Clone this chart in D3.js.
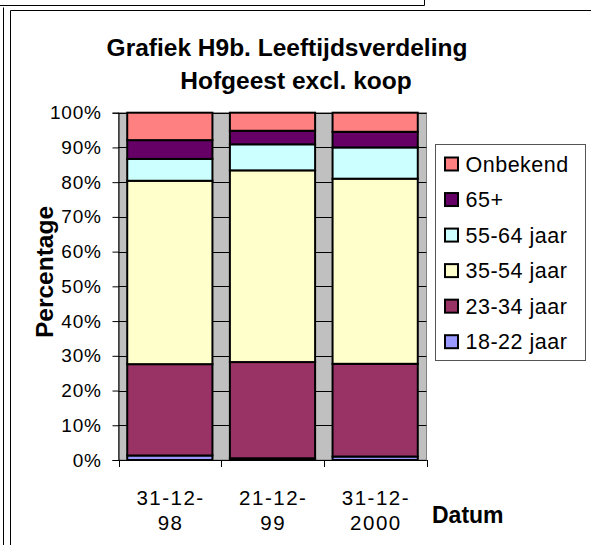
<!DOCTYPE html>
<html>
<head>
<meta charset="utf-8">
<script src="https://cdn.jsdelivr.net/npm/d3@7"></script>
<style>
  body { margin: 0; background: #fff; }
  text { font-family: "Liberation Sans", Arial, sans-serif; fill: #000; }
</style>
</head>
<body>
<div id="chart"></div>
<script>
// Categories (dates) and their two-line labels
const categories = ["31-12-98", "21-12-99", "31-12-2000"];
const categoryLines = [["31-12-", "98"], ["21-12-", "99"], ["31-12-", "2000"]];

// Series values (percentages per date), stacked bottom to top
const seriesNames = ["18-22 jaar", "23-34 jaar", "35-54 jaar", "55-64 jaar", "65+", "Onbekend"];
const v1822 = [1.3, 0.5, 1.0];
const v2334 = [26.3, 27.7, 26.7];
const v3554 = [52.8, 55.2, 53.3];
const v5564 = [6.3, 7.5, 9.0];
const v65plus = [5.4, 3.9, 4.5];
const vOnbekend = [7.9, 5.2, 5.5];
const seriesColors = ["#9999FF", "#993366", "#FFFFCC", "#CCFFFF", "#660066", "#FF8080"];

const yTicks = [0, 0.1, 0.2, 0.3, 0.4, 0.5, 0.6, 0.7, 0.8, 0.9, 1];

const svgWidth = 591;
const svgHeight = 545;

const svg = d3.select('#chart')
  .append('svg')
  .attr('width', svgWidth)
  .attr('height', svgHeight);

// Outer frames (the double border of the sheet)
const frame = svg.append('g').attr('fill', 'none').attr('stroke', '#000').attr('stroke-width', 1);
frame.append('path').attr('d', 'M0,5.5H424.5V0');
frame.append('path').attr('d', 'M3.5,545V7.5');
frame.append('path').attr('d', 'M10.5,545V10.5H591');

// Plot area
const plot = { left: 118.5, right: 426.5, top: 112.7, bottom: 460 };

// Build rows for stacking
const rows = categories.map((c, i) => ({
  cat: c,
  "18-22 jaar": v1822[i],
  "23-34 jaar": v2334[i],
  "35-54 jaar": v3554[i],
  "55-64 jaar": v5564[i],
  "65+": v65plus[i],
  "Onbekend": vOnbekend[i]
}));

const stacked = d3.stack()
  .keys(seriesNames)
  .offset(d3.stackOffsetExpand)(rows);

const xScale = d3.scaleBand()
  .domain(categories)
  .range([plot.left, plot.right])
  .paddingInner(0.17)
  .paddingOuter(0.085);

const yScale = d3.scaleLinear()
  .domain([0, 1])
  .range([plot.bottom, plot.top]);

const color = d3.scaleOrdinal().domain(seriesNames).range(seriesColors);

// Gray plot background
svg.append('rect')
  .attr('x', plot.left)
  .attr('y', plot.top)
  .attr('width', plot.right - plot.left)
  .attr('height', plot.bottom - plot.top)
  .attr('fill', '#C0C0C0')
  .attr('stroke', '#808080');

// Gridlines
svg.append('g')
  .selectAll('line')
  .data(yTicks)
  .join('line')
  .attr('x1', plot.left)
  .attr('x2', plot.right)
  .attr('y1', d => Math.round(yScale(d)) + 0.5)
  .attr('y2', d => Math.round(yScale(d)) + 0.5)
  .attr('stroke', '#000')
  .attr('stroke-width', 1);

// Stacked bars
svg.append('g')
  .selectAll('g')
  .data(stacked)
  .join('g')
  .attr('fill', d => color(d.key))
  .selectAll('rect')
  .data(d => d)
  .join('rect')
  .attr('x', d => xScale(d.data.cat))
  .attr('width', xScale.bandwidth())
  .attr('y', d => yScale(d[1]))
  .attr('height', d => yScale(d[0]) - yScale(d[1]))
  .attr('stroke', '#000')
  .attr('stroke-width', 2);

// Y axis
const yAxis = d3.axisLeft(yScale)
  .tickValues(yTicks)
  .tickFormat(d3.format('.0%'))
  .tickSize(6)
  .tickPadding(11);

const yG = svg.append('g')
  .attr('transform', `translate(${plot.left},0)`)
  .call(yAxis);
yG.select('.domain').attr('stroke', '#000');
yG.selectAll('.tick line').attr('stroke', '#000');
yG.selectAll('.tick text')
  .attr('font-family', '"Liberation Sans", Arial, sans-serif')
  .style('font-size', '19px')
  .style('letter-spacing', '0.7px')
  .attr('fill', '#000');

// X axis line and ticks at category boundaries
const step = xScale.step();
const boundaries = d3.range(categories.length + 1).map(i => plot.left + i * step);
const xG = svg.append('g');
xG.append('line')
  .attr('x1', plot.left).attr('x2', plot.right)
  .attr('y1', plot.bottom + 0.5).attr('y2', plot.bottom + 0.5)
  .attr('stroke', '#000');
xG.selectAll('line.tick')
  .data(boundaries)
  .join('line')
  .attr('class', 'tick')
  .attr('x1', d => Math.round(d) + 0.5).attr('x2', d => Math.round(d) + 0.5)
  .attr('y1', plot.bottom).attr('y2', plot.bottom + 7)
  .attr('stroke', '#000');

// Category labels (two lines each)
const catLabels = svg.append('g')
  .selectAll('text')
  .data(categories)
  .join('text')
  .attr('text-anchor', 'middle')
  .style('font-size', '20.5px')
  .style('letter-spacing', '1.5px');
catLabels.each(function(d, i) {
  const cx = xScale(d) + xScale.bandwidth() / 2 + 0.75;
  const t = d3.select(this);
  t.append('tspan').attr('x', cx).attr('y', 504.5).text(categoryLines[i][0]);
  t.append('tspan').attr('x', cx).attr('y', 530).text(categoryLines[i][1]);
});

// Axis titles
svg.append('text')
  .attr('x', 432)
  .attr('y', 522.7)
  .style('font-size', '23px')
  .style('font-weight', 'bold')
  .text('Datum');

svg.append('text')
  .attr('transform', 'translate(53,272) rotate(-90)')
  .attr('text-anchor', 'middle')
  .style('font-size', '24.5px')
  .style('font-weight', 'bold')
  .text('Percentage');

// Chart title
const title = svg.append('text')
  .attr('text-anchor', 'middle')
  .style('font-size', '24.5px')
  .style('font-weight', 'bold');
title.append('tspan').attr('x', 287).attr('y', 56).text('Grafiek H9b. Leeftijdsverdeling');
title.append('tspan').attr('x', 296).attr('y', 89).text('Hofgeest excl. koop');

// Legend
const legend = svg.append('g');
legend.append('rect')
  .attr('x', 435.5)
  .attr('y', 144.5)
  .attr('width', 150)
  .attr('height', 216)
  .attr('fill', '#fff')
  .attr('stroke', '#555');

const legendItems = seriesNames.slice().reverse();
const legendY = d3.scalePoint()
  .domain(legendItems)
  .range([164, 341.7]);

const li = legend.selectAll('g.item')
  .data(legendItems)
  .join('g')
  .attr('class', 'item')
  .attr('transform', d => `translate(0,${legendY(d)})`);
li.append('rect')
  .attr('x', 445)
  .attr('y', -6.5)
  .attr('width', 13)
  .attr('height', 13)
  .attr('fill', d => color(d))
  .attr('stroke', '#000')
  .attr('stroke-width', 2);
li.append('text')
  .attr('x', 465.5)
  .attr('y', 7.5)
  .style('font-size', '21.5px')
  .style('letter-spacing', '0.5px')
  .text(d => d);
</script>
</body>
</html>
